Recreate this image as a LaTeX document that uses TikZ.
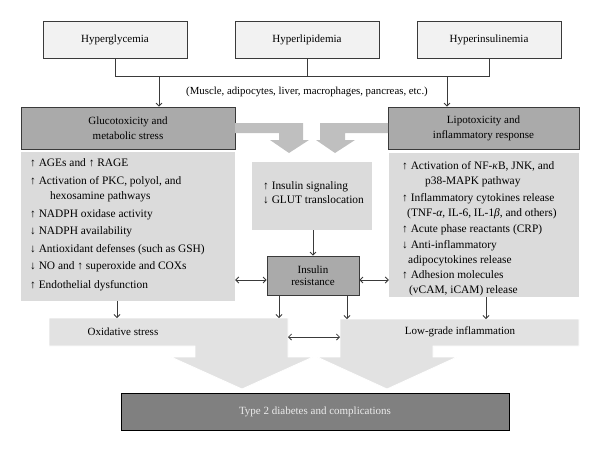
\documentclass[tikz,border=0pt]{standalone}
\usepackage{fontspec}
\setmainfont{Liberation Serif}
\usetikzlibrary{arrows.meta}
\definecolor{topfill}{HTML}{F2F2F2}
\definecolor{darkfill}{HTML}{AAAAAA}
\definecolor{lightfill}{HTML}{DBDBDB}
\definecolor{bandfill}{HTML}{E2E2E2}
\definecolor{arrowfill}{HTML}{BFBFBF}
\definecolor{t2fill}{HTML}{808080}
\definecolor{linecol}{HTML}{3A3A3A}
\newcommand{\myup}{↑}
\newcommand{\mydn}{↓}
\begin{document}
\begin{tikzpicture}[x=1pt,y=-1pt,
  every node/.style={font=\fontsize{11}{15}\selectfont, inner sep=0pt},
  topbox/.style={draw=linecol, line width=0.8pt, fill=topfill, minimum width=144pt, minimum height=37pt},
  darkbox/.style={draw=linecol, line width=0.8pt, fill=darkfill, align=center},
  lightbox/.style={fill=lightfill},
  txt/.style={anchor=west, text height=7.5pt, text depth=2.5pt, font=\fontsize{11.4}{15}\selectfont},
  conn/.style={draw=linecol, line width=0.8pt},
  arr/.style={conn, -{Straight Barb[length=3pt,width=6pt]}},
  darr/.style={conn, {Straight Barb[length=3pt,width=6pt]}-{Straight Barb[length=3pt,width=6pt]}}
]
\useasboundingbox (0,0) rectangle (600,451);

% top boxes
\node[topbox] (hg) at (115,39.5) {Hyperglycemia};
\node[topbox] (hl) at (307,39.5) {Hyperlipidemia};
\node[topbox] (hi) at (489,39.5) {Hyperinsulinemia};
\coordinate (j) at (0,76);
\draw[conn] (hg.south) -- (hg.south |- j) -- (hi.south |- j) -- (hi.south);
\draw[conn] (hl.south) -- (hl.south |- j);
\node[font=\fontsize{10.8}{12}\selectfont] (tissue) at (307,92) {(Muscle, adipocytes, liver, macrophages, pancreas, etc.)};

% second row dark boxes
\node[darkbox, minimum width=214pt, minimum height=42pt] (gl) at (128,128) {Glucotoxicity and\\metabolic stress};
\node[darkbox, minimum width=191pt, minimum height=42pt] (li) at (483.5,128) {Lipotoxicity and\\inflammatory response};
\coordinate (ga) at (159,76);
\coordinate (la) at (447,76);
\draw[arr] (ga) -- (ga |- gl.north);
\draw[arr] (la) -- (la |- li.north);

% thick grey arrows into centre
\fill[arrowfill] (235,123) -- (303,123) -- (303,140) -- (309,140) -- (289,153) -- (270,140) -- (279,140) -- (279,133) -- (235,133) -- cycle;
\fill[arrowfill] (388,123) -- (320,123) -- (320,140) -- (316,140) -- (335,153) -- (355,140) -- (345,140) -- (345,133) -- (388,133) -- cycle;

% light boxes
\node[lightbox, minimum width=214pt, minimum height=149pt] (lb) at (128,226.5) {};
\node[lightbox, minimum width=190pt, minimum height=144pt] (rb) at (484,225) {};
\node[lightbox, minimum width=120pt, minimum height=68pt] (cb) at (312,196) {};

% left box text
\node[txt] (l1) at (30,164) {\myup{} AGEs and \myup{} RAGE};
\node[txt] (l2) at (30,182) {\myup{} Activation of PKC, polyol, and};
\node[txt] (l3) at (50,197) {hexosamine pathways};
\node[txt] (l4) at (30,215) {\myup{} NADPH oxidase activity};
\node[txt] (l5) at (30,232) {\mydn{} NADPH availability};
\node[txt] (l6) at (30,250) {\mydn{} Antioxidant defenses (such as GSH)};
\node[txt] (l7) at (30,267) {\mydn{} NO and \myup{} superoxide and COXs};
\node[txt] (l8) at (30,286) {\myup{} Endothelial dysfunction};

% right box text
\node[txt] (r1) at (402,167) {\myup{} Activation of NF-\textit{κ}B, JNK, and};
\node[txt] (r2) at (425,182) {p38-MAPK pathway};
\node[txt] (r3) at (402,199) {\myup{} Inflammatory cytokines release};
\node[txt] (r4) at (407,214) {(TNF-\textit{α}, IL-6, IL-1\textit{β}, and others)};
\node[txt] (r5) at (402,230) {\myup{} Acute phase reactants (CRP)};
\node[txt] (r6) at (402,246) {\mydn{} Anti-inflammatory};
\node[txt] (r7) at (408,261) {adipocytokines release};
\node[txt] (r8) at (402,276) {\myup{} Adhesion molecules};
\node[txt] (r9) at (409,291) {(vCAM, iCAM) release};

% centre box text
\node[txt] (c1) at (263,187) {\myup{} Insulin signaling};
\node[txt] (c2) at (263,201) {\mydn{} GLUT translocation};

% insulin resistance
\node[darkbox, minimum width=92pt, minimum height=39pt, font=\fontsize{11}{12}\selectfont] (ir) at (313,275.5) {Insulin\\resistance};
\draw[arr] (cb.south -| ir.north) -- (ir.north);
\coordinate (dy) at (0,280);
\draw[darr] (lb.east |- dy) -- (ir.west |- dy);
\draw[darr] (ir.east |- dy) -- (rb.west |- dy);

% bottom bands with block arrows
\filldraw[fill=bandfill, draw=white, line width=0.8pt] (49,318) -- (288,318) -- (288,357) -- (313,357) -- (242,389) -- (171,357) -- (195,357) -- (195,346) -- (49,346) -- cycle;
\filldraw[fill=bandfill, draw=white, line width=0.8pt] (579,319) -- (340,319) -- (340,357) -- (317,357) -- (387,389) -- (457,357) -- (433,357) -- (433,346) -- (579,346) -- cycle;
\node (ox) at (123,332) {Oxidative stress};
\node (lg) at (460,332) {Low-grade inflammation};

\coordinate (o1) at (117,301);
\coordinate (o2) at (117,318);
\draw[arr] (o1) -- (o2);
\coordinate (i1) at (279,318);
\coordinate (i2) at (347,319);
\draw[arr] (ir.south -| i1) -- (i1);
\draw[arr] (ir.south -| i2) -- (i2);
\coordinate (g1) at (486,319);
\draw[arr] (rb.south -| g1) -- (g1);
\coordinate (b1) at (288,337);
\coordinate (b2) at (340,337);
\draw[darr] (b1) -- (b2);

% final box
\node[draw=black, line width=0.8pt, fill=t2fill, text=white!92!black, minimum width=388pt, minimum height=37pt] (t2) at (315,411.5) {Type 2 diabetes and complications};
\end{tikzpicture}
\end{document}
